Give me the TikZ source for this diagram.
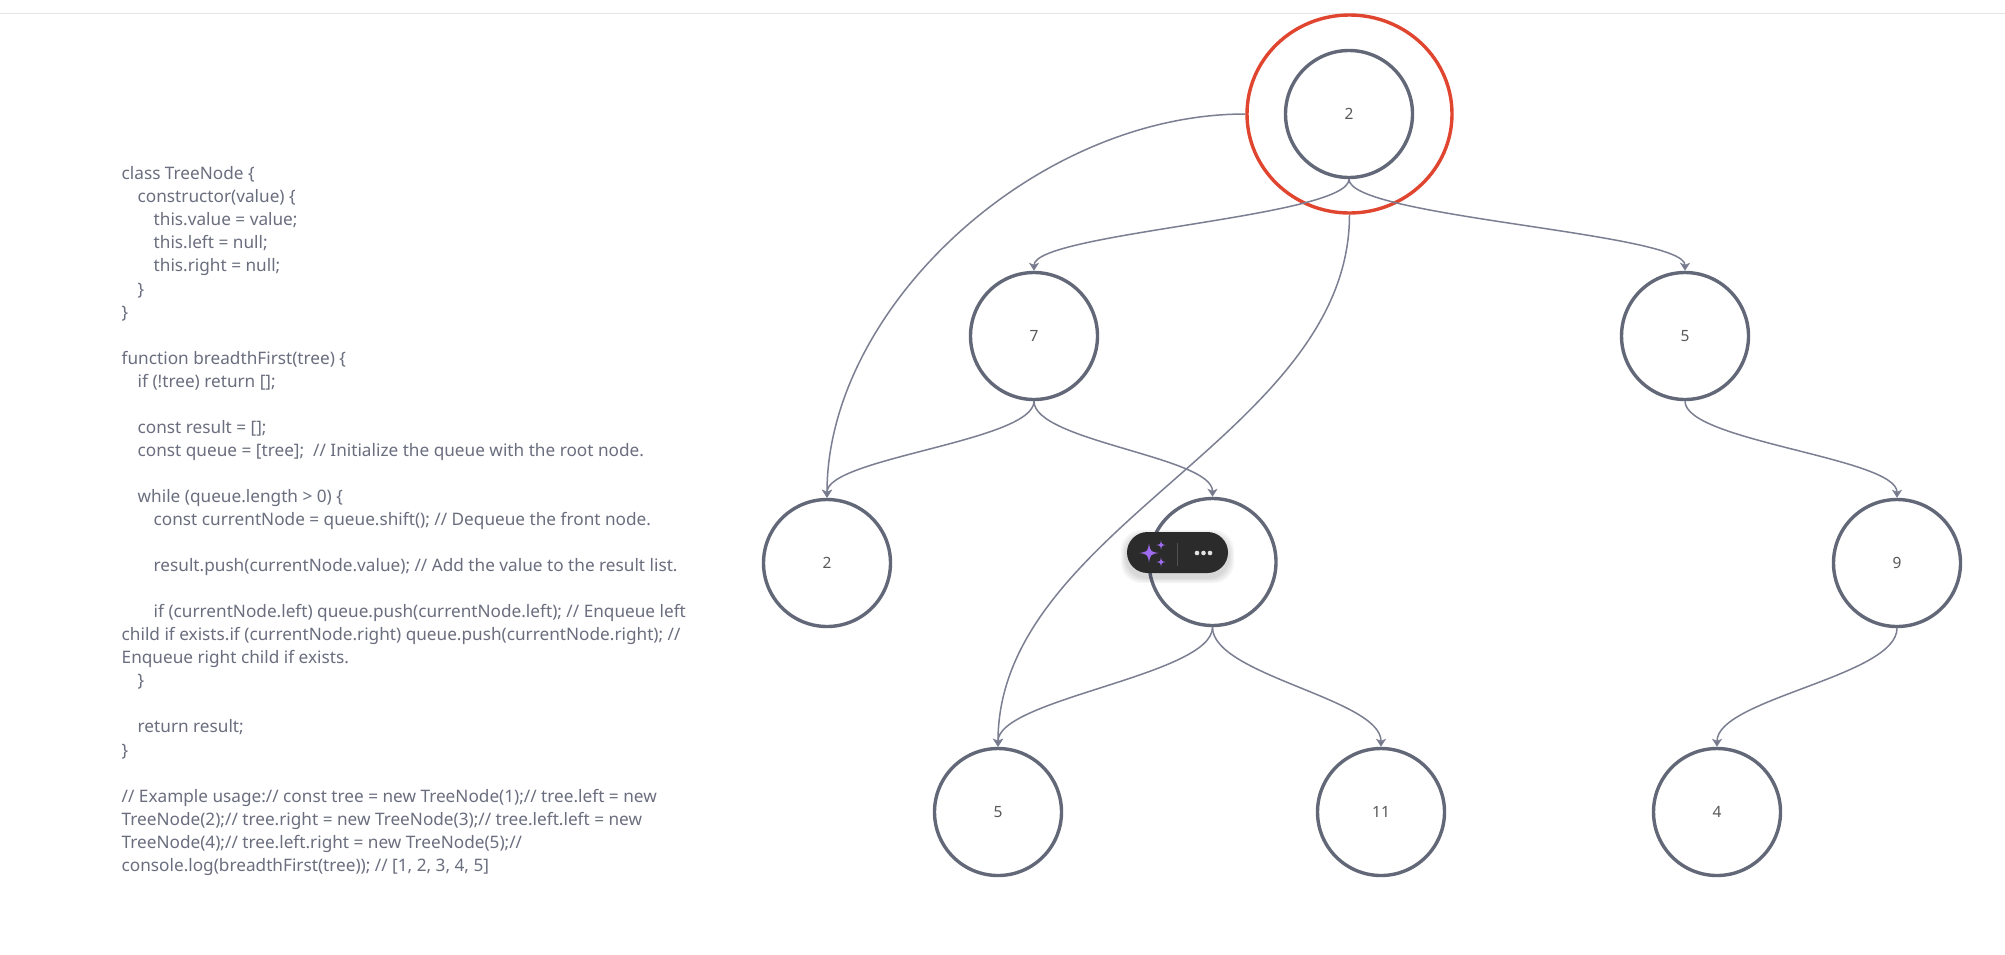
\documentclass[tikz,border=0pt]{standalone}
\usepackage{fontspec}
\setmainfont{Noto Sans}
\usetikzlibrary{arrows.meta,shapes.geometric}
\definecolor{ink}{HTML}{636879}
\definecolor{codeink}{HTML}{6A6E7E}
\definecolor{wire}{HTML}{7B7F91}
\definecolor{redring}{HTML}{E0452F}
\definecolor{pillbg}{HTML}{2B2B2B}
\definecolor{spark}{HTML}{9F6BF0}
\definecolor{dotc}{HTML}{E2E2E2}
\tikzset{
  x=1pt,y=-1pt,
  tree/.style={circle,draw=ink,line width=3.4pt,fill=none,minimum size=127pt,inner sep=0pt,text=black!65,font=\fontsize{15.5}{18}\selectfont},
  ring/.style={ellipse,draw=redring,line width=3.4pt,minimum width=205pt,minimum height=198pt,inner sep=0pt},
  conn/.style={draw=wire,line width=1.5pt,-{Stealth[length=8pt,width=10pt,inset=2pt,fill=ink]}},
  codetext/.style={anchor=north west,align=left,inner sep=0pt,text=codeink,font=\fontsize{17.2}{23.05}\selectfont},
  pillbox/.style={rounded corners=20.5pt,fill=pillbg,minimum width=101pt,minimum height=41pt,inner sep=0pt},
}
\newcommand{\sparkle}[3]{\fill[spark] (#1,#2-#3) .. controls (#1+.15*#3,#2-.15*#3) .. (#1+#3,#2) .. controls (#1+.15*#3,#2+.15*#3) .. (#1,#2+#3) .. controls (#1-.15*#3,#2+.15*#3) .. (#1-#3,#2) .. controls (#1-.15*#3,#2-.15*#3) .. (#1,#2-#3) -- cycle;}
\newcommand{\ind}{\hspace*{16pt}}
\begin{document}
\begin{tikzpicture}
\useasboundingbox (0,0) rectangle (2005,954);
\fill[white] (0,0) rectangle (2005,954);
\draw[black!10,line width=1pt] (0,13.5) -- (2005,13.5);

\node[codetext] (code) at (121.5,166.5) {class TreeNode \{\\
\ind constructor(value) \{\\
\ind\ind this.value = value;\\
\ind\ind this.left = null;\\
\ind\ind this.right = null;\\
\ind \}\\
\}\\
~\\
function breadthFirst(tree) \{\\
\ind if (!tree) return {[}{]};\\
~\\
\ind const result = {[}{]};\\
\ind const queue = {[}tree{]};\ \ // Initialize the queue with the root node.\\
~\\
\ind while (queue.length > 0) \{\\
\ind\ind const currentNode = queue.shift(); // Dequeue the front node.\\
~\\
\ind\ind result.push(currentNode.value); // Add the value to the result list.\\
~\\
\ind\ind if (currentNode.left) queue.push(currentNode.left); // Enqueue left\\
child if exists.if (currentNode.right) queue.push(currentNode.right); //\\
Enqueue right child if exists.\\
\ind \}\\
~\\
\ind return result;\\
\}\\
~\\
// Example usage:// const tree = new TreeNode(1);// tree.left = new\\
TreeNode(2);// tree.right = new TreeNode(3);// tree.left.left = new\\
TreeNode(4);// tree.left.right = new TreeNode(5);//\\
console.log(breadthFirst(tree)); // {[}1, 2, 3, 4, 5{]}};

\node[ring] (red) at (1349.5,114) {};
\node[tree] (root) at (1349,114) {2};
\node[tree] (n7) at (1034,336) {7};
\node[tree] (n5) at (1685,336) {5};
\node[tree] (n2) at (827,563) {2};
\node[tree] (blank) at (1212.5,562) {};
\node[tree] (n9) at (1897,563) {9};
\node[tree] (m5) at (998,812) {5};
\node[tree] (m11) at (1381,812) {11};
\node[tree] (m4) at (1717,812) {4};

\draw[conn] (root.south) .. controls +(0,38) and +(0,-38) .. (n7.north);
\draw[conn] (root.south) .. controls +(0,38) and +(0,-38) .. (n5.north);
\draw[conn] (n7.south) .. controls +(0,40) and +(0,-40) .. (n2.north);
\draw[conn] (n7.south) .. controls +(0,40) and +(0,-40) .. (blank.north);
\draw[conn] (n5.south) .. controls +(0,40) and +(0,-40) .. (n9.north);
\draw[conn] (blank.south) .. controls +(0,48) and +(0,-48) .. (m5.north);
\draw[conn] (blank.south) .. controls +(0,48) and +(0,-48) .. (m11.north);
\draw[conn] (n9.south) .. controls +(0,48) and +(0,-48) .. (m4.north);
\draw[conn] (red.west) .. controls +(-210,0) and +(0,-190) .. (n2.north);
\draw[conn] (red.south) .. controls +(0,220) and +(0,-220) .. (m5.north);

\foreach \k in {6,4.5,3,1.5}{
  \fill[black,opacity=.04,rounded corners=20.5pt] (1127-\k,532+4-\k) rectangle (1228+\k,573+4+\k);
}
\node[pillbox] (pill) at (1177.5,552.5) {};
\draw[white!18!pillbg,line width=.8pt] (1177,543) -- (1177,566);
\sparkle{1149}{553}{9.5}
\sparkle{1161}{545}{4.6}
\sparkle{1161}{562}{4.6}
\fill[dotc] (1197,553) circle (2.3) (1203.5,553) circle (2.3) (1210,553) circle (2.3);
\end{tikzpicture}
\end{document}
